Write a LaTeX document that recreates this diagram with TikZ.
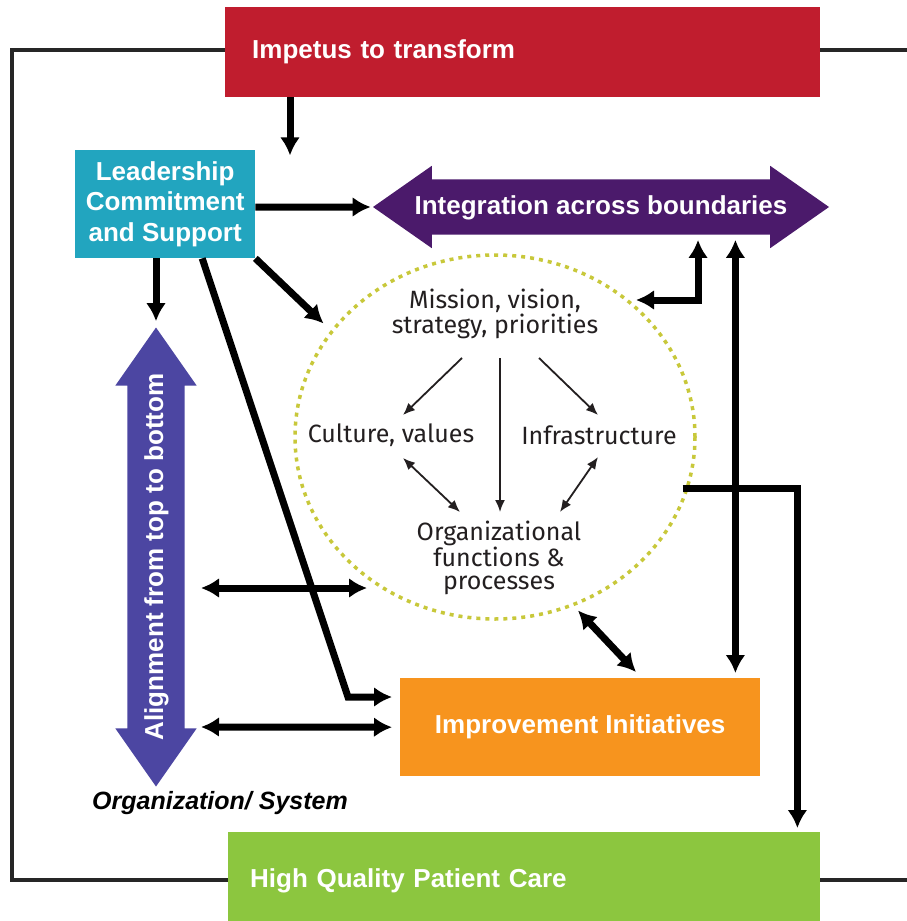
\documentclass[tikz,border=0pt]{standalone}
\usepackage{fontspec}
\setmainfont{Liberation Sans}
\newfontfamily\corefont{Fira Sans}
\usetikzlibrary{arrows.meta,shapes.arrows,shapes.geometric,calc}
\definecolor{impred}{HTML}{C01D2E}
\definecolor{leadblue}{HTML}{22A5BF}
\definecolor{integpurple}{HTML}{4B1A6B}
\definecolor{alignblue}{HTML}{4C46A2}
\definecolor{improveorange}{HTML}{F7941E}
\definecolor{caregreen}{HTML}{8CC63F}
\definecolor{dotyellow}{HTML}{C8C83A}
\definecolor{coretext}{HTML}{231F20}
\begin{document}
\begin{tikzpicture}[x=1pt,y=-1pt,
  box/.style={inner sep=0pt,text=white,font=\fontsize{26}{30.5}\selectfont\bfseries},
  bigarrow/.style={line width=7pt,-{Latex[length=18pt,width=20pt]}},
  bigboth/.style={line width=7pt,{Latex[length=18pt,width=20pt]}-{Latex[length=18pt,width=20pt]}},
  inarrow/.style={line width=1.8pt,draw=coretext,-{Latex[length=12pt,width=10pt]}},
  inboth/.style={line width=1.8pt,draw=coretext,{Latex[length=12pt,width=10pt]}-{Latex[length=12pt,width=10pt]}},
  coretxt/.style={inner sep=0pt,text=coretext,align=center,font=\corefont\fontsize{25}{22.5}\selectfont}]
\useasboundingbox (0,0) rectangle (907,921);
\fill[white] (0,0) rectangle (907,921);
\draw[line width=3.2pt,black!85] (907,50) -- (12,50) -- (12,880) -- (907,880);

\node[box,fill=impred,anchor=north west,minimum width=595pt,minimum height=90pt,text width=541pt,inner xsep=27pt,align=left] (impetus) at (225,7) {Impetus to transform};
\node[box,fill=leadblue,anchor=north west,minimum width=180pt,minimum height=108pt,align=center] (lead) at (75,150) {Leadership\\Commitment\\and Support};
\node[box,double arrow,fill=integpurple,double arrow head extend=13.5pt,double arrow tip angle=70,minimum height=456pt,text height=19pt,text depth=5pt,inner ysep=15.5pt] (integ) at (601,207) {Integration across boundaries};
\node[box,double arrow,fill=alignblue,rotate=90,double arrow head extend=12pt,double arrow tip angle=70,minimum height=459pt,text height=19pt,text depth=5pt,inner ysep=16.5pt] (align) at (156,557) {Alignment from top to bottom};

\node[draw=dotyellow,ellipse,line width=3.5pt,dash pattern=on 4pt off 5pt,minimum width=400pt,minimum height=364pt,inner sep=0pt] (core) at (495,437) {};
\node[coretxt] (mission) at (495,314) {Mission, vision,\\strategy, priorities};
\node[coretxt] (culture) at (391,435) {Culture, values};
\node[coretxt] (infra) at (599,435) {Infrastructure};
\node[coretxt] (orgfun) at (499,558) {Organizational\\functions \&\\processes};

\node[box,fill=improveorange,anchor=north west,minimum width=360pt,minimum height=98pt] (improve) at (400,678) {Improvement Initiatives};
\node[box,fill=caregreen,anchor=north west,minimum width=592pt,minimum height=98pt,text width=548pt,inner xsep=22pt,align=left] (care) at (228,832) {High Quality Patient Care};
\node[font=\fontsize{25}{30}\selectfont\bfseries\itshape,inner sep=0pt] (orgsys) at (220,803) {Organization/ System};

\draw[bigarrow] ($(impetus.south west)+(65,0)$) -- ++(0,58);
\draw[bigarrow,shorten >=2pt] (lead.east |- integ) -- (integ.west);
\draw[bigarrow,shorten >=6pt] (lead.south -| align) -- (align.east);
\draw[bigarrow,shorten >=10pt] (lead.south east) -- (core.147);
\draw[bigarrow] ($(lead.south)+(37,0)$) -- ($(improve.north west)+(-52,19)$) -- ($(improve.north west)+(-8,19)$);
\draw[bigboth] ($(align.center)+(45,31)$) -- ($(core.center)+(-128,151)$);
\draw[bigboth,shorten >=8pt] ($(align.center)+(45,170)$) -- (improve.west);
\draw[bigboth,shorten <=6pt] (core.-65) -- ($(improve.north west)+(236,-6)$);
\coordinate (vx) at ($(improve.north east)+(-25,-5)$);
\draw[bigboth,shorten >=5pt] (vx) -- (vx |- integ.south);
\draw[bigboth,shorten >=5pt] ($(core.center)+(141,-137)$) -| ($(integ.south)+(97,0)$);
\draw[bigarrow,shorten >=4pt,shorten <=-6pt] (core.-15) -| ($(care.north east)+(-23,0)$);

\draw[inarrow] ($(mission.center)+(-33,44)$) -- ($(culture.center)+(12,-20)$);
\draw[inarrow] ($(mission.center)+(5,44)$) -- ($(orgfun.center)+(1,-46)$);
\draw[inarrow] ($(mission.center)+(44,44)$) -- ($(infra.center)+(-1,-20)$);
\draw[inboth] ($(culture.center)+(12,23)$) -- ($(orgfun.center)+(-39,-46)$);
\draw[inboth] ($(infra.center)+(-1,22)$) -- ($(orgfun.center)+(61,-46)$);
\end{tikzpicture}
\end{document}
